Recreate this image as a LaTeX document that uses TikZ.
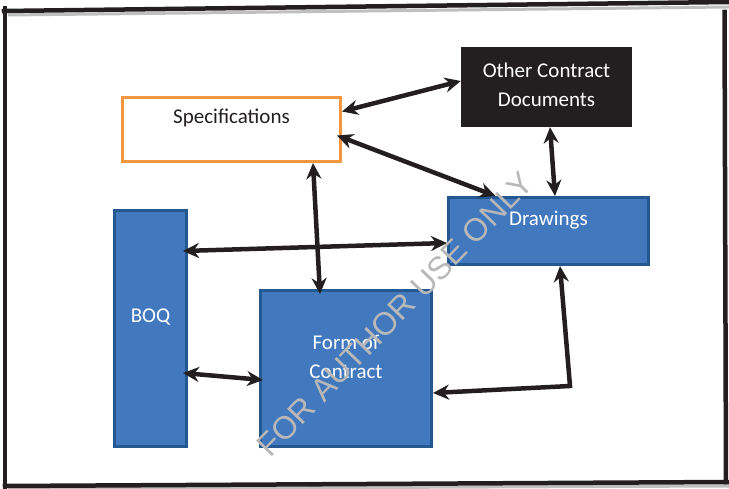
\documentclass[tikz,border=0pt]{standalone}
\usepackage{xcolor}
\usepackage{fontspec}
\setmainfont{Carlito}
\setsansfont{Liberation Sans}
\usepackage{tikz}
\usetikzlibrary{shapes.geometric, arrows, arrows.meta}
\definecolor{docblue}{RGB}{66,121,190}
\definecolor{docedge}{RGB}{36,88,145}
\definecolor{docorange}{RGB}{244,150,62}
\definecolor{docblack}{RGB}{35,31,32}
\tikzstyle{component} = [rectangle, inner sep=0pt, align=center, font=\fontsize{21}{28.5}\selectfont]
\tikzstyle{bluebox} = [component, fill=docblue, draw=docedge, line width=3pt, text=white]
\tikzstyle{specbox} = [component, fill=white, draw=docorange, line width=3pt, text=docblack]
\tikzstyle{darkbox} = [component, fill=docblack, text=white]
\tikzstyle{arrow} = [line width=4.5pt, draw=docblack, <->, >={Stealth[length=16pt,width=15pt]}]
\tikzstyle{frame} = [line width=4.5pt, draw=docblack, line cap=rect]
\tikzstyle{frameshadow} = [line width=3pt, draw=black!25]

\begin{document}
\begin{tikzpicture}[x=1pt, y=-1pt]
        \useasboundingbox (0,0) rectangle (729,489);

        % page frame
        \draw [frameshadow] (8,15) -- (729,7);
        \draw [frameshadow] (8,489) -- (729,486);
        \draw [frame] (4,11) -- (729,2);
        \draw [frame] (5,8) -- (5,489);
        \draw [frame] (5,486) -- (729,482);
        \draw [frame] (724.5,12) -- (726,482);

        \node (spec) [specbox, minimum width=218pt, minimum height=64pt, text height=14pt, text depth=25pt] at (231.5,129.5) {Specifications};
        \node (other) [darkbox, minimum width=171pt, minimum height=80pt, text height=42.5pt, text depth=3.5pt] at (546.5,87) {Other Contract\\Documents};
        \node (drawings) [bluebox, minimum width=200pt, minimum height=67pt, text height=14pt, text depth=24pt] at (548.5,231) {Drawings};
        \node (boq) [bluebox, minimum width=72pt, minimum height=236pt, text height=14pt, text depth=26pt] at (150.5,328.5) {BOQ};
        \node (form) [bluebox, minimum width=171pt, minimum height=156pt, text height=42.5pt, text depth=22.5pt] at (346,368.5) {Form of\\Contract};
        \coordinate (bend) at (570,386);

        \draw [arrow] ([yshift=18pt]spec.east) -- ([yshift=6pt]other.west);
        \draw [arrow] ([xshift=-5pt,yshift=-6pt]spec.east) -- ([xshift=-53pt]drawings.north);
        \draw [arrow] ([xshift=3.5pt]other.south) -- ([xshift=6.5pt]drawings.north);
        \draw [arrow] ([xshift=81.5pt]spec.south) -- ([xshift=-26pt,yshift=-5pt]form.north);
        \draw [arrow] ([xshift=-5pt,yshift=77.5pt]boq.east) -- ([yshift=-12pt]drawings.west);
        \draw [arrow] ([xshift=-5pt,yshift=-44.5pt]boq.east) -- ([xshift=4pt,yshift=-11.5pt]form.west);
        \draw [arrow] ([xshift=11.5pt]drawings.south) -- (bend) -- ([yshift=-24.5pt]form.east);

        \node (stamp) [rotate=46, inner sep=0pt, text=black!28, font=\sffamily\fontsize{32}{32}\selectfont] at (395,314) {FOR AUTHOR USE ONLY};
    \end{tikzpicture}
\end{document}
